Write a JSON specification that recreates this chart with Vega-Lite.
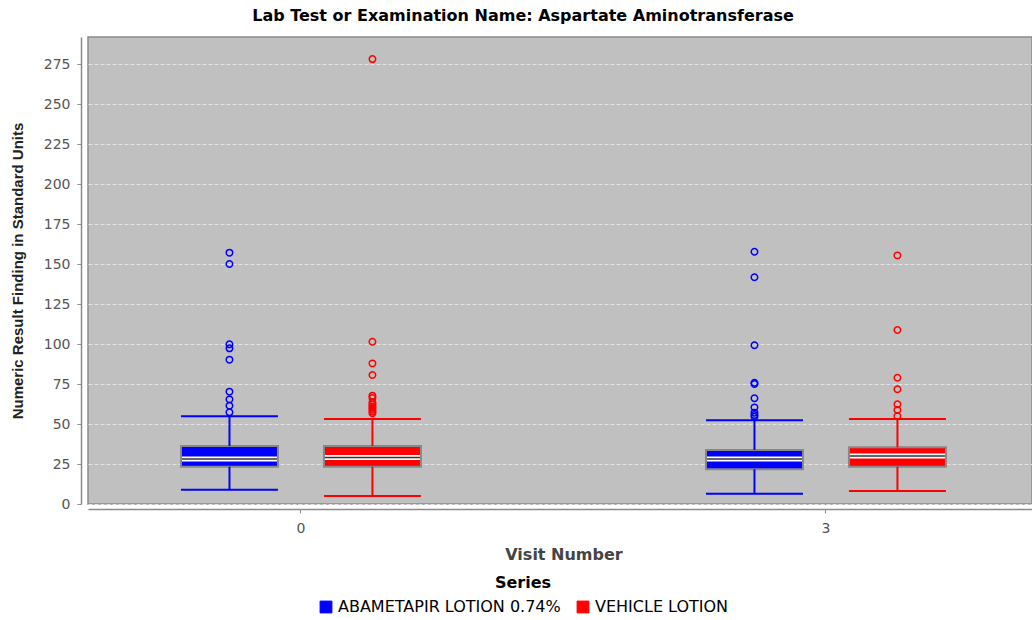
{
  "$schema": "https://vega.github.io/schema/vega-lite/v6.json",
  "autosize": {"type": "none"},
  "padding": {"left": 88, "top": 37, "right": 0, "bottom": 116},
  "width": 944,
  "height": 467,
  "background": "white",
  "config": {
    "view": {"fill": "#c0c0c0", "stroke": "#8a8a8a", "strokeWidth": 1.5},
    "font": "DejaVu Sans"
  },
  "title": {
    "text": "Lab Test or Examination Name: Aspartate Aminotransferase",
    "font": "DejaVu Sans",
    "fontSize": 16,
    "fontWeight": "bold",
    "color": "#000000",
    "anchor": "middle",
    "dx": -37,
    "offset": 13
  },
  "datasets": {
    "boxes": [
      {"visit": "0", "series": "ABAMETAPIR LOTION 0.74%", "lower": 8.9, "q1": 23.3, "median": 28.1, "q3": 36.25, "upper": 54.8},
      {"visit": "0", "series": "VEHICLE LOTION", "lower": 5.0, "q1": 23.3, "median": 29.0, "q3": 36.25, "upper": 53.1},
      {"visit": "3", "series": "ABAMETAPIR LOTION 0.74%", "lower": 6.4, "q1": 21.7, "median": 28.1, "q3": 33.75, "upper": 52.3},
      {"visit": "3", "series": "VEHICLE LOTION", "lower": 8.1, "q1": 23.3, "median": 30.0, "q3": 35.4, "upper": 53.1}
    ],
    "outliers": [
      {"visit": "0", "series": "ABAMETAPIR LOTION 0.74%", "value": 157.1},
      {"visit": "0", "series": "ABAMETAPIR LOTION 0.74%", "value": 150.0},
      {"visit": "0", "series": "ABAMETAPIR LOTION 0.74%", "value": 99.8},
      {"visit": "0", "series": "ABAMETAPIR LOTION 0.74%", "value": 97.3},
      {"visit": "0", "series": "ABAMETAPIR LOTION 0.74%", "value": 90.2},
      {"visit": "0", "series": "ABAMETAPIR LOTION 0.74%", "value": 70.2},
      {"visit": "0", "series": "ABAMETAPIR LOTION 0.74%", "value": 65.4},
      {"visit": "0", "series": "ABAMETAPIR LOTION 0.74%", "value": 61.4},
      {"visit": "0", "series": "ABAMETAPIR LOTION 0.74%", "value": 57.3},
      {"visit": "0", "series": "VEHICLE LOTION", "value": 278.1},
      {"visit": "0", "series": "VEHICLE LOTION", "value": 101.4},
      {"visit": "0", "series": "VEHICLE LOTION", "value": 87.9},
      {"visit": "0", "series": "VEHICLE LOTION", "value": 80.6},
      {"visit": "0", "series": "VEHICLE LOTION", "value": 67.7},
      {"visit": "0", "series": "VEHICLE LOTION", "value": 66.3},
      {"visit": "0", "series": "VEHICLE LOTION", "value": 63.5},
      {"visit": "0", "series": "VEHICLE LOTION", "value": 62.2},
      {"visit": "0", "series": "VEHICLE LOTION", "value": 61.0},
      {"visit": "0", "series": "VEHICLE LOTION", "value": 60.0},
      {"visit": "0", "series": "VEHICLE LOTION", "value": 58.9},
      {"visit": "0", "series": "VEHICLE LOTION", "value": 57.8},
      {"visit": "0", "series": "VEHICLE LOTION", "value": 56.7},
      {"visit": "3", "series": "ABAMETAPIR LOTION 0.74%", "value": 157.7},
      {"visit": "3", "series": "ABAMETAPIR LOTION 0.74%", "value": 141.7},
      {"visit": "3", "series": "ABAMETAPIR LOTION 0.74%", "value": 99.2},
      {"visit": "3", "series": "ABAMETAPIR LOTION 0.74%", "value": 75.8},
      {"visit": "3", "series": "ABAMETAPIR LOTION 0.74%", "value": 75.0},
      {"visit": "3", "series": "ABAMETAPIR LOTION 0.74%", "value": 66.1},
      {"visit": "3", "series": "ABAMETAPIR LOTION 0.74%", "value": 60.4},
      {"visit": "3", "series": "ABAMETAPIR LOTION 0.74%", "value": 57.1},
      {"visit": "3", "series": "ABAMETAPIR LOTION 0.74%", "value": 55.6},
      {"visit": "3", "series": "ABAMETAPIR LOTION 0.74%", "value": 54.6},
      {"visit": "3", "series": "VEHICLE LOTION", "value": 155.4},
      {"visit": "3", "series": "VEHICLE LOTION", "value": 108.75},
      {"visit": "3", "series": "VEHICLE LOTION", "value": 78.9},
      {"visit": "3", "series": "VEHICLE LOTION", "value": 71.7},
      {"visit": "3", "series": "VEHICLE LOTION", "value": 62.3},
      {"visit": "3", "series": "VEHICLE LOTION", "value": 58.75},
      {"visit": "3", "series": "VEHICLE LOTION", "value": 55.0}
    ]
  },
  "encoding": {
    "x": {
      "field": "visit",
      "type": "nominal",
      "scale": {"paddingInner": 0.45524, "paddingOuter": 0.12667, "align": 0.526},
      "axis": {
        "title": "Visit Number",
        "labelAngle": 0,
        "offset": 5,
        "domainColor": "#8a8a8a",
        "domainWidth": 1.5,
        "tickColor": "#8a8a8a",
        "tickSize": 4,
        "labelFont": "DejaVu Sans",
        "labelFontSize": 14,
        "labelColor": "#555555",
        "labelPadding": 8,
        "titleFont": "DejaVu Sans",
        "titleFontSize": 16,
        "titleFontWeight": "bold",
        "titleColor": "#444444",
        "titlePadding": 11,
        "titleX": 475.5,
        "grid": false
      }
    },
    "xOffset": {
      "field": "series",
      "type": "nominal",
      "scale": {"paddingInner": 0.3217, "paddingOuter": 0.161}
    },
    "color": {
      "field": "series",
      "type": "nominal",
      "scale": {"domain": ["ABAMETAPIR LOTION 0.74%", "VEHICLE LOTION"], "range": ["#0000ff", "#ff0000"]},
      "legend": {
        "title": "Series",
        "orient": "none",
        "legendX": 230,
        "legendY": 538,
        "direction": "horizontal",
        "titleAnchor": "middle",
        "titleOrient": "top",
        "titleFont": "DejaVu Sans",
        "titleFontSize": 16,
        "titleFontWeight": "bold",
        "titleColor": "#000000",
        "titlePadding": 8,
        "labelFont": "DejaVu Sans",
        "labelFontSize": 16,
        "labelColor": "#000000",
        "labelLimit": 0,
        "symbolType": "square",
        "symbolSize": 140,
        "symbolStrokeColor": "#888888",
        "symbolStrokeWidth": 1,
        "symbolOpacity": 1,
        "columnPadding": 14,
        "labelOffset": 4
      }
    }
  },
  "layer": [
    {
      "data": {"name": "boxes"},
      "mark": {"type": "bar", "stroke": "#888888", "strokeWidth": 2, "opacity": 1},
      "encoding": {
        "y": {
          "field": "q1",
          "type": "quantitative",
          "scale": {"domain": [0, 291.9], "nice": false, "zero": false},
          "axis": {
            "title": "Numeric Result Finding in Standard Units",
            "values": [0, 25, 50, 75, 100, 125, 150, 175, 200, 225, 250, 275],
            "offset": 7,
            "domainColor": "#8a8a8a",
            "domainWidth": 1.5,
            "tickColor": "#8a8a8a",
            "tickSize": 4,
            "labelFont": "DejaVu Sans",
            "labelFontSize": 14,
            "labelColor": "#555555",
            "labelPadding": 7,
            "titleFont": "Liberation Sans",
            "titleFontSize": 15,
            "titleFontWeight": "bold",
            "titleColor": "#222222",
            "titlePadding": 18,
            "grid": true,
            "gridColor": "#e4e4e4",
            "gridDash": [4, 2],
            "gridWidth": 1
          }
        },
        "y2": {"field": "q3"}
      }
    },
    {
      "data": {"name": "boxes"},
      "mark": {"type": "rule", "strokeWidth": 2},
      "encoding": {"y": {"field": "lower", "type": "quantitative"}, "y2": {"field": "q1"}}
    },
    {
      "data": {"name": "boxes"},
      "mark": {"type": "rule", "strokeWidth": 2},
      "encoding": {"y": {"field": "q3", "type": "quantitative"}, "y2": {"field": "upper"}}
    },
    {
      "data": {"name": "boxes"},
      "mark": {"type": "tick", "size": 97, "thickness": 2, "opacity": 1},
      "encoding": {"y": {"field": "lower", "type": "quantitative"}}
    },
    {
      "data": {"name": "boxes"},
      "mark": {"type": "tick", "size": 97, "thickness": 2, "opacity": 1},
      "encoding": {"y": {"field": "upper", "type": "quantitative"}}
    },
    {
      "data": {"name": "boxes"},
      "mark": {"type": "tick", "size": 95, "thickness": 5, "opacity": 1, "color": "#ffffff"},
      "encoding": {"y": {"field": "median", "type": "quantitative"}, "color": {"value": "#ffffff"}}
    },
    {
      "data": {"name": "boxes"},
      "mark": {"type": "tick", "size": 95, "thickness": 1.5, "opacity": 1, "color": "#333333"},
      "encoding": {"y": {"field": "median", "type": "quantitative"}, "color": {"value": "#333333"}}
    },
    {
      "data": {"name": "outliers"},
      "mark": {"type": "point", "shape": "circle", "filled": false, "size": 42, "strokeWidth": 1.5, "opacity": 1},
      "encoding": {"y": {"field": "value", "type": "quantitative"}}
    }
  ]
}
